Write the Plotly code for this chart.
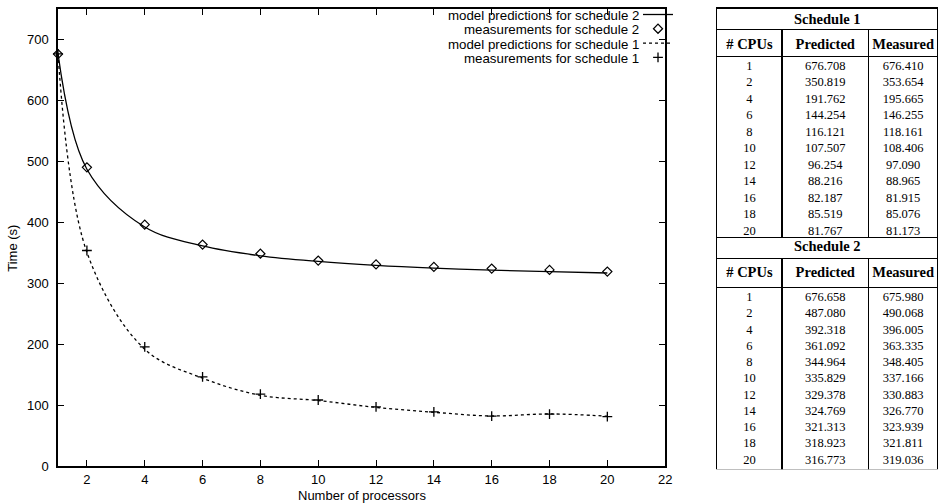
import plotly.graph_objects as go

# ---------------- data ----------------
cpus = [1, 2, 4, 6, 8, 10, 12, 14, 16, 18, 20]
s1_pred = [676.708, 350.819, 191.762, 144.254, 116.121, 107.507, 96.254, 88.216, 82.187, 85.519, 81.767]
s1_meas = [676.410, 353.654, 195.665, 146.255, 118.161, 108.406, 97.090, 88.965, 81.915, 85.076, 81.173]
s2_pred = [676.658, 487.080, 392.318, 361.092, 344.964, 335.829, 329.378, 324.769, 321.313, 318.923, 316.773]
s2_meas = [675.980, 490.068, 396.005, 363.335, 348.405, 337.166, 330.883, 326.770, 323.939, 321.811, 319.036]

legend_labels = ["model predictions for schedule 2", "measurements for schedule 2",
                 "model predictions for schedule 1", "measurements for schedule 1"]
x_ticks = [2, 4, 6, 8, 10, 12, 14, 16, 18, 20, 22]
y_ticks = [0, 100, 200, 300, 400, 500, 600, 700]
table_headers = ["#\u00a0CPUs", "Predicted", "Measured"]
schedule_titles = ["Schedule\u00a01", "Schedule\u00a02"]

# ---------------- layout helpers (pixels -> paper) ----------------
W, H = 945, 504
ML, MR, MT, MB = 58, 0, 0, 34
PW = W - ML - MR
PH = H - MT - MB


def px_x(px):
    return (px - ML) / PW


def px_y(py):
    return (H - MB - py) / PH


def dom_y(py):
    return min(1.0, max(0.0, px_y(py)))


SANS = "Liberation Sans, Arial, sans-serif"
SERIF = "Liberation Serif, Times New Roman, serif"

fig = go.Figure()

# ---------------- chart traces (each in its own legend so rows can be spaced like the original) ----------------
fig.add_trace(go.Scatter(x=cpus, y=s2_pred, mode="lines", name=" ", legend="legend",
                         line=dict(color="black", width=1.3, shape="spline")))
fig.add_trace(go.Scatter(x=cpus, y=s2_meas, mode="markers", name=" ", legend="legend2",
                         cliponaxis=False,
                         marker=dict(symbol="diamond-open", size=7, color="black",
                                     line=dict(width=1.2, color="black"))))
fig.add_trace(go.Scatter(x=cpus, y=s1_pred, mode="lines", name=" ", legend="legend3",
                         line=dict(color="black", width=1.3, dash="dot", shape="spline")))
fig.add_trace(go.Scatter(x=cpus, y=s1_meas, mode="markers", name=" ", legend="legend4",
                         cliponaxis=False,
                         marker=dict(symbol="cross-thin", size=7, color="black",
                                     line=dict(width=1.3, color="black"))))

# ---------------- tables ----------------
tx0 = px_x(722)
colw = [65, 86, 69]
CLEAR = "rgba(0,0,0,0)"
LINE = dict(color="black", width=1.3)
NOLINE = dict(color=CLEAR, width=0)
HEAD_FONT = dict(family=SERIF, size=14.5, color="black", weight="bold")


def fmt(v):
    return f"{v:.3f}"


# (pred, meas, title top, header top, data top, data bottom, header height, first data row top, row height)
schedules = [
    (s1_pred, s1_meas, 3, 25, 52, 235, 27, 47.8, 16.5),
    (s2_pred, s2_meas, 235, 256, 285, 467, 29, 281.7, 16.25),
]
for i, (pred, meas, t_top, f_top, d_top, d_bot, hh, r_top, r_h) in enumerate(schedules):
    # title box (spanning all columns)
    fig.add_trace(go.Table(
        domain=dict(x=[tx0, 1.0], y=[dom_y(f_top + 3), dom_y(t_top)]),
        header=dict(values=[""], height=f_top - t_top, fill_color="white", line=LINE),
        cells=dict(values=[[""]], height=1, fill_color=CLEAR, line=NOLINE)))
    # title text, nudged up to sit centred in its box
    fig.add_trace(go.Table(
        domain=dict(x=[tx0, 1.0], y=[dom_y(f_top + 3), dom_y(t_top - 5)]),
        header=dict(values=[schedule_titles[i]], height=f_top - t_top, align="center",
                    fill_color=CLEAR, line=NOLINE, font=HEAD_FONT),
        cells=dict(values=[[""]], height=1, fill_color=CLEAR, line=NOLINE)))
    # frame: column headers + one tall empty row giving the outer box and column rules
    fig.add_trace(go.Table(
        domain=dict(x=[tx0, 1.0], y=[dom_y(d_bot + 3), dom_y(f_top)]),
        columnwidth=colw,
        header=dict(values=table_headers, height=hh, align="center", fill_color="white",
                    line=LINE, font=HEAD_FONT),
        cells=dict(values=[[""], [""], [""]], height=d_bot - d_top,
                   fill_color=CLEAR, line=LINE)))
    # data rows (no inner rules, text only)
    fig.add_trace(go.Table(
        domain=dict(x=[tx0, 1.0], y=[dom_y(d_bot + 3), dom_y(r_top - 1)]),
        columnwidth=colw,
        header=dict(values=["", "", ""], height=1, fill_color=CLEAR, line=NOLINE),
        cells=dict(values=[[str(c) for c in cpus], [fmt(v) for v in pred], [fmt(v) for v in meas]],
                   height=r_h, align="center", fill_color=CLEAR, line=NOLINE,
                   font=dict(family=SERIF, size=12.5, color="black"))))

# ---------------- legend rows ----------------
legend_rows = [10.5, 25, 39.5, 54]
legend_right = 691
annotations = []
for k, lab in enumerate(legend_labels):
    annotations.append(dict(text=lab, xref="paper", yref="paper", x=px_x(646),
                            y=px_y(legend_rows[k]), xanchor="right", yanchor="middle",
                            showarrow=False, font=dict(family=SANS, size=13.3, color="black")))

annotations.append(dict(text="Number of processors", xref="paper", yref="paper",
                        x=px_x(364), y=px_y(495.5), xanchor="center", yanchor="middle",
                        showarrow=False, borderpad=0,
                        font=dict(family=SANS, size=13, color="black")))
annotations.append(dict(text="Time (s)", xref="paper", yref="paper", textangle=-90,
                        x=px_x(12), y=px_y(246), xanchor="center", yanchor="middle",
                        showarrow=False, font=dict(family=SANS, size=13, color="black")))


def legend_box(row):
    return dict(x=px_x(legend_right), y=px_y(row - 1), xanchor="right", yanchor="middle",
                bgcolor=CLEAR, borderwidth=0, font=dict(size=10), itemwidth=30)


axis_common = dict(showgrid=False, zeroline=False, showline=True, linecolor="black",
                   linewidth=1.5, ticks="inside", ticklen=6, tickwidth=1.3, tickcolor="black",
                   mirror="ticks", tickfont=dict(family=SANS, size=13, color="black"))

fig.update_layout(
    width=W, height=H,
    margin=dict(l=ML, r=MR, t=MT, b=MB, pad=0),
    paper_bgcolor="white", plot_bgcolor="white",
    xaxis=dict(range=[1, 22], tickvals=x_ticks, domain=[0, px_x(670)],
               ticklabelstandoff=1, **axis_common),
    yaxis=dict(range=[0, 750], tickvals=y_ticks, domain=[dom_y(466), dom_y(4)],
               ticklabelstandoff=5, **axis_common),
    showlegend=True,
    legend=legend_box(legend_rows[0]),
    legend2=legend_box(legend_rows[1]),
    legend3=legend_box(legend_rows[2]),
    legend4=legend_box(legend_rows[3]),
    annotations=annotations,
)

fig.write_html("out.html", config={"displayModeBar": False},
               post_script="document.body.style.margin='0';")
